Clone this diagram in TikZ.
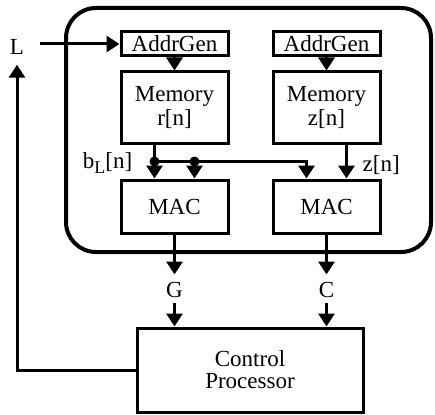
\documentclass[tikz,border=0pt]{standalone}
\usepackage{fontspec}
\setmainfont{Liberation Serif}
\usetikzlibrary{positioning,arrows.meta}

\begin{document}
\begin{tikzpicture}[x=1pt,y=1pt,
    box/.style={draw,rectangle,line width=3pt,inner sep=0pt,align=center,minimum width=107pt},
    arr/.style={-{Triangle[width=16pt,length=13pt]},line width=3pt},
    lbl/.style={inner sep=0pt},
    font=\fontsize{23}{24}\selectfont,
    node distance=13pt and 42pt,
  ]
    \useasboundingbox (0,0) rectangle (435,-414);
    \node[box,minimum height=24pt] (agL) at (174.5,-44) {AddrGen};
    \node[box,minimum height=24pt,right=of agL] (agR) {AddrGen};
    \node[box,minimum height=71pt,below=of agL] (memL) {Memory\\r[n]};
    \node[box,minimum height=71pt,below=of agR] (memR) {Memory\\z[n]};
    \node[box,minimum height=53pt,below=34pt of memL] (macL) {MAC};
    \node[box,minimum height=53pt,below=34pt of memR] (macR) {MAC};
    \node[box,minimum width=226pt,minimum height=84pt,font=\fontsize{23}{22}\selectfont] (cp) at (250,-370) {Control\\Processor};
    \draw[line width=4pt,rounded corners=30pt] (66,-8) rectangle (431,-252);
    \node[lbl] (L) at (17,-47) {L};
    \node[lbl,below=48pt of macL] (G) {G};
    \node[lbl,below=48pt of macR] (C) {C};
    % taps between memories and MACs
    \coordinate (outL) at ([xshift=-20pt]memL.south);
    \coordinate (outR) at ([xshift=20pt]memR.south);
    \coordinate (inA) at ([xshift=-20pt]macL.north);
    \coordinate (inB) at ([xshift=20pt]macL.north);
    \coordinate (inC) at ([xshift=-20pt]macR.north);
    \coordinate (inD) at ([xshift=20pt]macR.north);
    \path (outL) -- coordinate[midway] (tapA) (inA);
    \coordinate (Lout) at ([xshift=16pt]L.east);
    \node[lbl,anchor=east] (bL) at ([xshift=-22pt,yshift=-2pt]tapA) {b\raisebox{-5pt}{\fontsize{18}{18}\selectfont L}[n]};
    \node[lbl,anchor=west] (zN) at ([xshift=16pt,yshift=-4pt]outR |- tapA) {z[n]};
    \draw[arr] (Lout |- agL.west) -- (agL.west);
    \draw[arr] (agL) -- (memL); \draw[arr] (agR) -- (memR);
    \draw[arr] (outL) -- (inA); \draw[arr] (outR) -- (inD);
    \draw[arr] (tapA) -| (inC); \draw[arr] (tapA -| inB) -- (inB);
    \fill (tapA) circle (5pt); \fill (tapA -| inB) circle (5pt);
    \draw[arr] (macL.south) -- ([yshift=8pt]G.north); \draw[arr] ([yshift=-5pt]G.south) -- (G.south |- cp.north);
    \draw[arr] (macR.south) -- ([yshift=8pt]C.north); \draw[arr] ([yshift=-5pt]C.south) -- (C.south |- cp.north);
    \draw[arr] (cp.west) -| ([yshift=-10pt]L.south);
  \end{tikzpicture}
\end{document}
